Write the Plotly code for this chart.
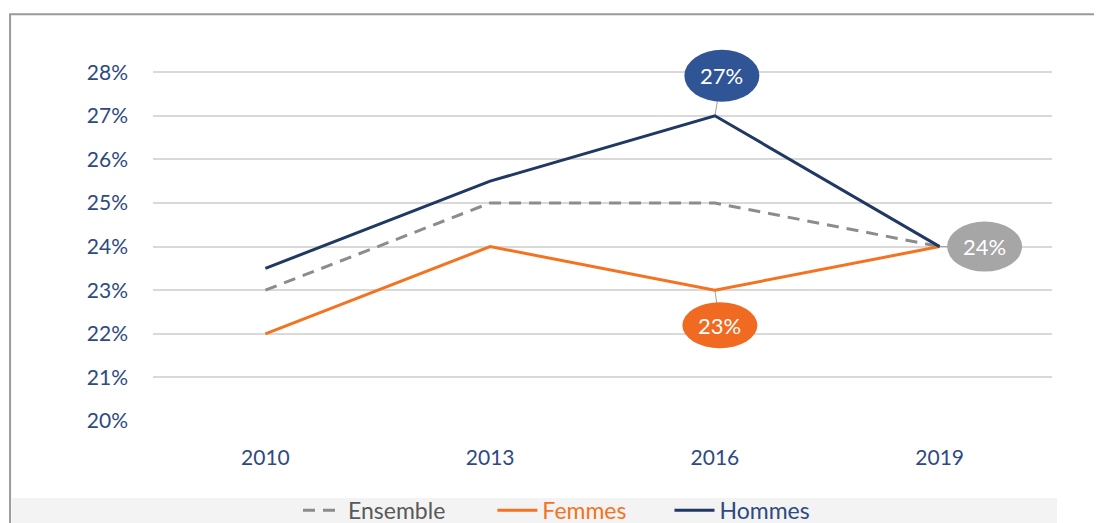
import plotly.graph_objects as go

years = ["2010", "2013", "2016", "2019"]
ensemble = [23, 25, 25, 24]
femmes = [22, 24, 23, 24]
hommes = [23.5, 25.5, 27, 24]
y_ticks = [20, 21, 22, 23, 24, 25, 26, 27, 28]

BLUE = "#1F3864"
ORANGE = "#F47321"
GREY = "#8C8C8C"
TICK = "#2E4A80"

fig = go.Figure()
fig.add_trace(go.Scatter(x=years, y=ensemble, mode="lines", legend="legend",
                         name="<span style='color:#595959'>Ensemble</span>",
                         line=dict(color=GREY, width=3, dash="12px,8px")))
fig.add_trace(go.Scatter(x=years, y=femmes, mode="lines", legend="legend2",
                         name=f"<span style='color:{ORANGE}'>Femmes</span>",
                         line=dict(color=ORANGE, width=3)))
fig.add_trace(go.Scatter(x=years, y=hommes, mode="lines", legend="legend3",
                         name=f"<span style='color:{TICK}'>Hommes</span>",
                         line=dict(color=BLUE, width=3)))

shapes = [
    # outer frame
    dict(type="rect", xref="paper", yref="paper", x0=-0.159, x1=1.2, y0=-0.4, y1=1.085,
         line=dict(color="#9A9A9A", width=2), layer="below"),
    # legend band
    dict(type="rect", xref="paper", yref="paper", x0=-0.157, x1=1.0056, y0=-0.4, y1=-0.205,
         fillcolor="#F3F3F3", line=dict(width=0), layer="below"),
]
annotations = []

# bubble labels: (series, year, dx, dy, w, h, color)
bubbles = [
    (hommes, "2016", 7, 40, 75, 52, "#2F5597"),
    (femmes, "2016", 5, -35, 75, 46, "#F06A22"),
    (hommes, "2019", 45, 0, 75, 50, "#A6A6A6"),
]
for series, yr, dx, dy, w, h, col in bubbles:
    i = years.index(yr)
    v = series[i]
    shapes.append(dict(type="line", xref="x", yref="y", xsizemode="pixel", ysizemode="pixel",
                       xanchor=i, yanchor=v, x0=0, x1=dx, y0=0, y1=dy,
                       line=dict(color="#A0A0A0", width=1), layer="between"))
    shapes.append(dict(type="circle", xref="x", yref="y", xsizemode="pixel", ysizemode="pixel",
                       xanchor=i, yanchor=v, x0=dx - w / 2, x1=dx + w / 2,
                       y0=dy - h / 2, y1=dy + h / 2,
                       fillcolor=col, line=dict(width=0), layer="between"))
    annotations.append(dict(x=i, y=v, xref="x", yref="y", text=f"{v:g}%", showarrow=False,
                            xshift=dx, yshift=dy,
                            font=dict(color="white", size=22, family="Lato")))

leg = dict(orientation="h", xanchor="left", y=-0.238, yanchor="middle",
           font=dict(size=23, family="Lato"), bgcolor="rgba(0,0,0,0)", itemwidth=40)

fig.update_layout(
    width=1094, height=515,
    margin=dict(l=145, r=50, t=38, b=102, autoexpand=False),
    plot_bgcolor="white", paper_bgcolor="white",
    font=dict(family="Lato", size=21, color=TICK),
    xaxis=dict(showgrid=False, showline=False, zeroline=False, ticks="",
               range=[-0.5, 3.5], ticklabelstandoff=22),
    yaxis=dict(range=[20, 28.6], tickvals=y_ticks, ticktext=[f"{t}%" for t in y_ticks],
               showgrid=True, gridcolor="#D9D9D9", gridwidth=1.5, zeroline=False,
               showline=False, ticks="", ticklabelstandoff=24),
    showlegend=True,
    legend=dict(leg, x=0.1613),
    legend2=dict(leg, x=0.3775),
    legend3=dict(leg, x=0.5745),
    shapes=shapes,
    annotations=annotations,
)

fig.write_html("out.html")
